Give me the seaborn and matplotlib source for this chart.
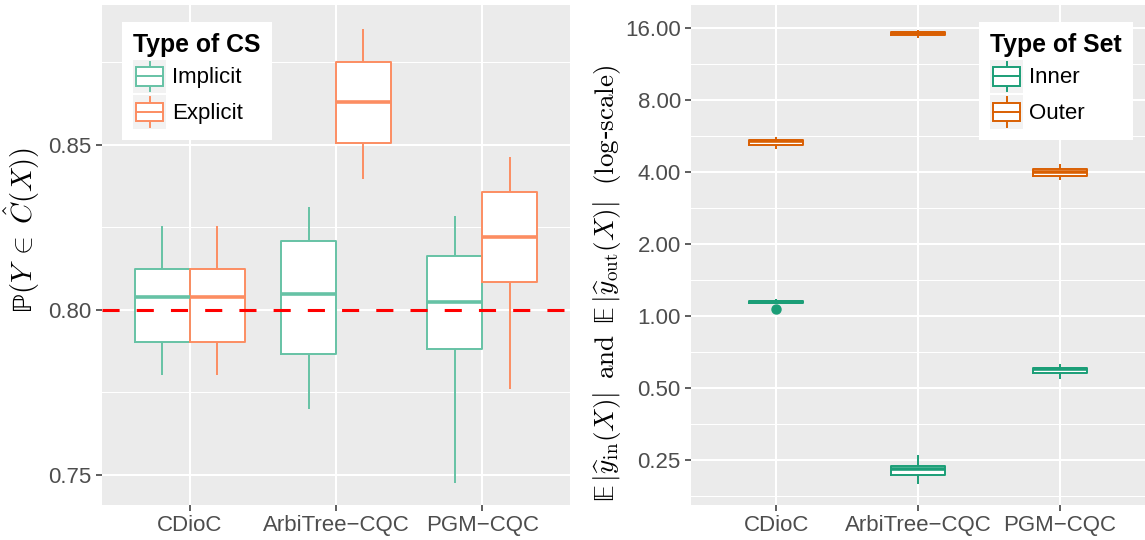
import numpy as np
import pandas as pd
import matplotlib
matplotlib.use("Agg")
import matplotlib.pyplot as plt
import seaborn as sns
from matplotlib.patches import Rectangle, Patch
from matplotlib.lines import Line2D
from matplotlib.legend_handler import HandlerBase
from matplotlib.ticker import FixedLocator, FixedFormatter, NullFormatter

# ---------------- data (five-number summaries) ----------------
methods = ["CDioC", "ArbiTree\u2212CQC", "PGM\u2212CQC"]

cs_types = ["Implicit", "Explicit"]
implicit_lo = [0.7804, 0.7700, 0.7477]
implicit_q1 = [0.7903, 0.7867, 0.7883]
implicit_med = [0.8039, 0.8048, 0.8024]
implicit_q3 = [0.8125, 0.8210, 0.8164]
implicit_hi = [0.8256, 0.8311, 0.8285]
explicit_lo = [0.7804, 0.8397, 0.7761]
explicit_q1 = [0.7903, 0.8505, 0.8086]
explicit_med = [0.8039, 0.8631, 0.8220]
explicit_q3 = [0.8125, 0.8751, 0.8359]
explicit_hi = [0.8256, 0.8852, 0.8465]
target_level = 0.80

set_types = ["Inner", "Outer"]
inner_lo = [1.133, 0.1993, 0.549]
inner_q1 = [1.133, 0.2170, 0.578]
inner_med = [1.144, 0.2303, 0.600]
inner_q3 = [1.155, 0.2369, 0.609]
inner_hi = [1.177, 0.2624, 0.634]
inner_outliers = [[1.077], [], []]
outer_lo = [5.02, 14.63, 3.70]
outer_q1 = [5.19, 14.96, 3.87]
outer_med = [5.40, 15.25, 4.00]
outer_q3 = [5.46, 15.50, 4.14]
outer_hi = [5.62, 15.80, 4.35]
outer_outliers = [[], [], []]

left_yticks = [0.75, 0.80, 0.85]
left_yminor = [0.775, 0.825, 0.875]
right_yticks = [0.25, 0.5, 1, 2, 4, 8, 16]
right_ytick_labels = ["0.25", "0.50", "1.00", "2.00", "4.00", "8.00", "16.00"]


def expand(lo, q1, med, q3, hi, outliers=()):
    # 9 points whose quartiles / whiskers reproduce the summary exactly
    pts = [lo, lo, q1, med, med, med, q3, hi, hi]
    for i, o in enumerate(outliers):
        pts[i] = o
    return pts


rows = []
for i, m in enumerate(methods):
    for v in expand(implicit_lo[i], implicit_q1[i], implicit_med[i], implicit_q3[i], implicit_hi[i]):
        rows.append((m, "Implicit", v))
    for v in expand(explicit_lo[i], explicit_q1[i], explicit_med[i], explicit_q3[i], explicit_hi[i]):
        rows.append((m, "Explicit", v))
df_cov = pd.DataFrame(rows, columns=["method", "cs", "value"])

rows = []
for i, m in enumerate(methods):
    for v in expand(inner_lo[i], inner_q1[i], inner_med[i], inner_q3[i], inner_hi[i], inner_outliers[i]):
        rows.append((m, "Inner", v))
    for v in expand(outer_lo[i], outer_q1[i], outer_med[i], outer_q3[i], outer_hi[i], outer_outliers[i]):
        rows.append((m, "Outer", v))
df_size = pd.DataFrame(rows, columns=["method", "set", "value"])

# ---------------- style ----------------
plt.rcParams["font.family"] = ["Liberation Sans", "DejaVu Sans"]
plt.rcParams["mathtext.fontset"] = "cm"

set2 = sns.color_palette("Set2", 2)
dark2 = sns.color_palette("Dark2", 2)
pal_cov = dict(zip(cs_types, set2))
pal_size = dict(zip(set_types, dark2))

fig = plt.figure(figsize=(11.45, 5.4), dpi=100)
ax1 = fig.add_axes([102 / 1145, 35 / 540, 468 / 1145, 500 / 540])
ax2 = fig.add_axes([691 / 1145, 35 / 540, 454 / 1145, 500 / 540])

BOX_LW = 1.4
MED_LW = 2.6
FS = 16


def draw_boxes(ax, df, hue, order, palette, width, dodge, log=False):
    kw = dict(data=df, x="method", y="value", hue=hue, order=methods, hue_order=order,
              width=width, dodge=dodge, legend=False, ax=ax, showcaps=False)
    if log:
        kw["log_scale"] = (False, 2)
    # white filled boxes underneath
    sns.boxplot(**kw, palette={k: "white" for k in order}, fill=True, linecolor="white",
                linewidth=0, showfliers=False,
                whiskerprops={"linewidth": 0}, medianprops={"linewidth": 0})
    # coloured outlines on top
    sns.boxplot(**kw, palette=palette, fill=False, linewidth=BOX_LW,
                medianprops={"linewidth": MED_LW},
                flierprops={"marker": "o", "markersize": 6.5})
    for ln in ax.lines:
        if ln.get_marker() == "o":
            ln.set_markerfacecolor(ln.get_markeredgecolor())


draw_boxes(ax1, df_cov, "cs", cs_types, pal_cov, 0.75, True)
draw_boxes(ax2, df_size, "set", set_types, pal_size, 0.385, False, log=True)

ax1.axhline(target_level, color="red", lw=2.2, ls=(0, (5.6, 5.6)), zorder=5)

# ---------------- axes styling ----------------
for ax in (ax1, ax2):
    ax.set_facecolor("#EBEBEB")
    for s in ax.spines.values():
        s.set_visible(False)
    ax.set_xlim(-0.6, 2.6)
    ax.set_xlabel("")
    ax.set_axisbelow(True)
    ax.tick_params(which="major", labelsize=FS, labelcolor="#4D4D4D", color="#333333",
                   length=4.3, width=1.1, pad=3)
    ax.tick_params(which="minor", length=0)
    ax.grid(which="major", color="white", lw=1.45)
    ax.grid(which="minor", axis="y", color="white", lw=0.75)
    ax.xaxis.grid(True, which="major", color="white", lw=1.45)

ax1.set_ylim(0.74091, 0.89242)
ax1.yaxis.set_major_locator(FixedLocator(left_yticks))
ax1.yaxis.set_major_formatter(FixedFormatter([f"{v:.2f}" for v in left_yticks]))
ax1.yaxis.set_minor_locator(FixedLocator(left_yminor))

ax2.set_yscale("log", base=2)
ax2.set_ylim(0.1626, 20.02)
ax2.yaxis.set_major_locator(FixedLocator(right_yticks))
ax2.yaxis.set_major_formatter(FixedFormatter(right_ytick_labels))
ax2.yaxis.set_minor_locator(FixedLocator([2 ** (k + 0.5) for k in range(-3, 5)]))
ax2.yaxis.set_minor_formatter(NullFormatter())

ax1.set_ylabel(r"$\mathrm{\mathbb{P}}(Y\;\in\;\hat{C}(X))$", fontsize=20.5, color="black", va="center")
ax1.yaxis.set_label_coords(-0.171, 0.55)
ax2.set_ylabel(r"$\mathrm{\mathbb{E}}\,|\widehat{y}_{\mathrm{in}}(X)|\ \,\mathrm{and}\ \,\mathrm{\mathbb{E}}\,|\widehat{y}_{\mathrm{out}}(X)|\ \ (\mathrm{log}$-$\mathrm{scale})$",
               fontsize=19.5, color="black", va="center", fontfamily="DejaVu Serif")
ax2.yaxis.set_label_coords(-0.185, 0.444)


# ---------------- legends with boxplot keys ----------------
class BoxKey(HandlerBase):
    def create_artists(self, legend, orig_handle, xdescent, ydescent, width, height, fontsize, trans):
        c = orig_handle.get_edgecolor()
        x0, y0 = -xdescent, -ydescent
        bg = Rectangle((x0, y0), width, height, facecolor="#F2F2F2", edgecolor="none", transform=trans)
        wl = Line2D([x0 + width / 2] * 2, [y0 + 0.06 * height, y0 + 0.94 * height], color=c, lw=1.4, transform=trans)
        box = Rectangle((x0 + 0.1 * width, y0 + 0.22 * height), 0.8 * width, 0.56 * height,
                        facecolor="white", edgecolor=c, lw=1.4, transform=trans)
        med = Line2D([x0 + 0.1 * width, x0 + 0.9 * width], [y0 + 0.5 * height] * 2, color=c, lw=1.4, transform=trans)
        return [bg, wl, box, med]


def add_legend(ax, title, order, palette, x0):
    handles = [Patch(facecolor="white", edgecolor=palette[k], label=k) for k in order]
    leg = ax.legend(handles=handles, labels=order, title=title, loc="upper left",
                    bbox_to_anchor=(x0, 0.966), borderaxespad=0, frameon=True, fancybox=False,
                    framealpha=1, facecolor="white", fontsize=FS,
                    title_fontproperties={"weight": "bold", "size": 17.8},
                    handlelength=1.5, handleheight=1.91, handletextpad=0.25,
                    labelspacing=0.12, borderpad=0.5, alignment="left",
                    handler_map={Patch: BoxKey()})
    leg.get_frame().set_linewidth(0)
    leg.set_zorder(10)
    return leg


add_legend(ax1, "Type of CS", cs_types, pal_cov, 0.0427)
add_legend(ax2, "Type of Set", set_types, pal_size, 0.634)

fig.savefig("out.png", dpi=100)
